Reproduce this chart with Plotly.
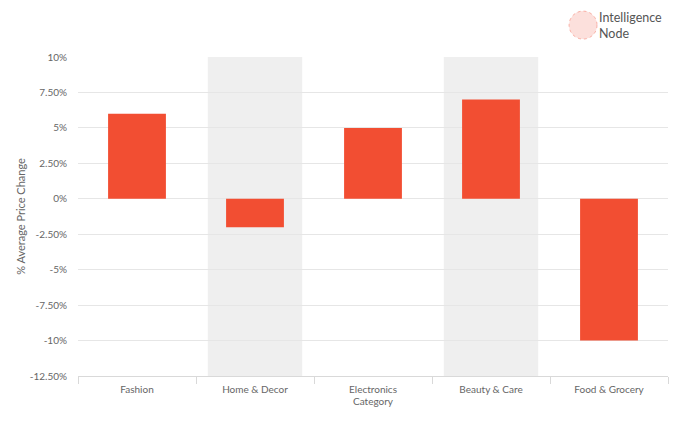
import plotly.graph_objects as go

categories = ["Fashion", "Home & Decor", "Electronics", "Beauty & Care", "Food & Grocery"]
values = [6, -2, 5, 7, -10]
tick_vals = [10, 7.5, 5, 2.5, 0, -2.5, -5, -7.5, -10, -12.5]
tick_text = ["10%", "7.50%", "5%", "2.50%", "0%", "-2.50%", "-5%", "-7.50%", "-10%", "-12.50%"]
shaded = ["Home & Decor", "Beauty & Care"]

FONT = "Lato, Open Sans, sans-serif"
GREY = "#666666"

fig = go.Figure(go.Bar(x=categories, y=values, marker=dict(color="#F24E32", line=dict(width=0)),
                       hoverinfo="x+y"))

shapes = []
for c in shaded:
    i = categories.index(c)
    shapes.append(dict(type="rect", xref="x", yref="y", x0=i - 0.4, x1=i + 0.4, y0=-12.5, y1=10,
                       fillcolor="#EFEFEF", line=dict(width=0), layer="below"))
# logo circle
shapes.append(dict(type="circle", xref="paper", yref="paper", xsizemode="pixel", ysizemode="pixel",
                   xanchor=0.856, yanchor=1.10, x0=-14, x1=14, y0=-14, y1=14,
                   fillcolor="rgba(242,100,80,0.20)", line=dict(color="rgba(242,100,80,0.45)", width=1, dash="dot")))

fig.update_layout(
    width=680, height=422,
    margin=dict(l=70, r=20, t=49, b=54),
    paper_bgcolor="white", plot_bgcolor="white",
    bargap=0.51,
    showlegend=False,
    font=dict(family=FONT, size=10, color=GREY),
    shapes=shapes,
    annotations=[
        dict(text="Intelligence<br>Node", xref="paper", yref="paper", x=0.879, y=1.10,
             xanchor="left", yanchor="middle", showarrow=False, align="left",
             font=dict(family=FONT, size=12.5, color="#555555")),
    ],
)
fig.update_xaxes(
    type="category", tickson="boundaries", ticks="outside", ticklen=7, tickcolor="#d9d9d9",
    showline=True, linecolor="#d9d9d9", linewidth=1, showgrid=False,
    tickfont=dict(family=FONT, size=10, color=GREY), ticklabelstandoff=4,
    title=dict(text="Category", standoff=3, font=dict(family=FONT, size=10, color=GREY)),
    range=[-0.5, 4.5], automargin=False,
)
fig.update_yaxes(
    range=[-12.5, 10], tickvals=tick_vals, ticktext=tick_text,
    showgrid=True, gridcolor="#e6e6e6", gridwidth=1, zeroline=False,
    tickfont=dict(family=FONT, size=10, color=GREY), ticklabelstandoff=10,
    title=dict(text="% Average Price Change", standoff=1, font=dict(family=FONT, size=11, color=GREY)),
    ticks="", automargin=False,
)

fig.write_html("out.html")
